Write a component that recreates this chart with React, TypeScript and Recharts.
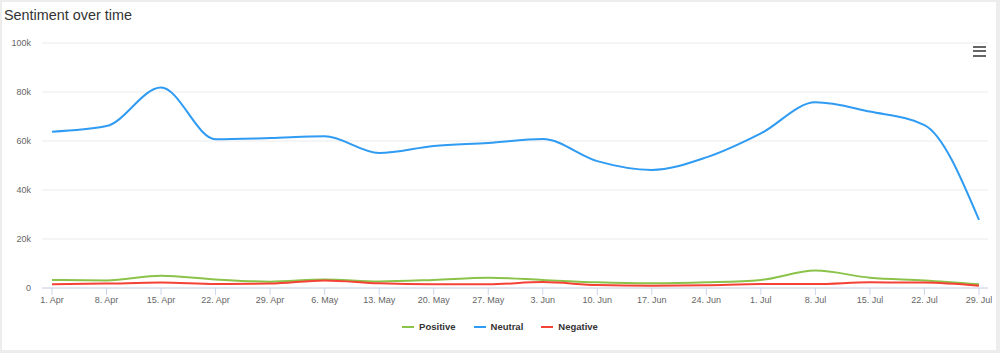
import { LineChart, Line, XAxis, YAxis, CartesianGrid } from 'recharts'

const dates = [
  '1. Apr', '8. Apr', '15. Apr', '22. Apr', '29. Apr', '6. May', '13. May', '20. May', '27. May',
  '3. Jun', '10. Jun', '17. Jun', '24. Jun', '1. Jul', '8. Jul', '15. Jul', '22. Jul', '29. Jul',
]
const positive = [3300, 3100, 5000, 3500, 2600, 3500, 2700, 3300, 4200, 3300, 2300, 1900, 2300, 3300, 7100, 4200, 3100, 1500]
const neutral = [63800, 66100, 81800, 60700, 61200, 61900, 55100, 58000, 59200, 60800, 51800, 48200, 53300, 63100, 75800, 72000, 66500, 27800]
const negative = [1500, 1800, 2200, 1600, 1800, 3100, 1900, 1500, 1500, 2400, 1200, 900, 1100, 1600, 1600, 2300, 2200, 900]
const yTicks = [0, 20000, 40000, 60000, 80000, 100000]

const seriesNames = ['Positive', 'Neutral', 'Negative']
const colors: Record<string, string> = {
  Positive: '#8bc34a',
  Neutral: '#2f9bf2',
  Negative: '#f44336',
}

const data = dates.map((d, i) => ({
  date: d,
  Positive: positive[i],
  Neutral: neutral[i],
  Negative: negative[i],
}))

const FONT = '"Liberation Sans", Arial, Helvetica, sans-serif'

export default function App() {
  return (
    <div
      style={{
        position: 'absolute',
        left: 0,
        top: 0,
        width: 1000,
        height: 353,
        boxSizing: 'border-box',
        borderStyle: 'solid',
        borderColor: '#ededed',
        borderWidth: '2px 4px 3px 2px',
        background: '#fff',
        fontFamily: FONT,
      }}
    >
      <style>{'body{margin:0}'}</style>
      <div style={{ position: 'absolute', left: 2, top: 5, fontSize: 14.4, color: '#333' }}>
        Sentiment over time
      </div>

      {/* menu icon */}
      {[0, 1, 2].map((k) => (
        <div
          key={k}
          style={{
            position: 'absolute',
            left: 971,
            top: 44 + k * 4.3,
            width: 13,
            height: 2,
            background: '#666',
          }}
        />
      ))}

      <div style={{ position: 'absolute', left: -2, top: -2 }}>
        <LineChart width={1000} height={353} data={data} margin={{ top: 43, right: 12, left: 0, bottom: 35 }}>
          <CartesianGrid vertical={false} stroke="#ebebeb" strokeWidth={1} />
          <XAxis
            dataKey="date"
            interval={0}
            height={30}
            padding={{ left: 10, right: 9 }}
            stroke="#ccd6eb"
            tickSize={7}
            tickMargin={2}
            tick={{ fontSize: 9, fill: '#666', fontFamily: FONT }}
          />
          <YAxis
            domain={[0, 100000]}
            ticks={yTicks}
            width={42}
            axisLine={false}
            tickLine={false}
            tickMargin={5}
            tick={{ fontSize: 9, fill: '#666', fontFamily: FONT }}
            tickFormatter={(v) => (v === 0 ? '0' : `${v / 1000}k`)}
          />
          {seriesNames.map((s) => (
            <Line
              key={s}
              type="monotone"
              dataKey={s}
              stroke={colors[s]}
              strokeWidth={2}
              dot={false}
              activeDot={false}
              isAnimationActive={false}
            />
          ))}
        </LineChart>
      </div>

      <div
        style={{
          position: 'absolute',
          left: -2,
          top: 318,
          width: 1000,
          display: 'flex',
          justifyContent: 'center',
          gap: 18,
          fontSize: 9.5,
          fontWeight: 'bold',
          color: '#333',
          lineHeight: '14px',
        }}
      >
        {seriesNames.map((s) => (
          <div key={s} style={{ display: 'flex', alignItems: 'center' }}>
            <span style={{ display: 'inline-block', width: 12, height: 2, background: colors[s], marginRight: 5 }} />
            <span>{s}</span>
          </div>
        ))}
      </div>
    </div>
  )
}
